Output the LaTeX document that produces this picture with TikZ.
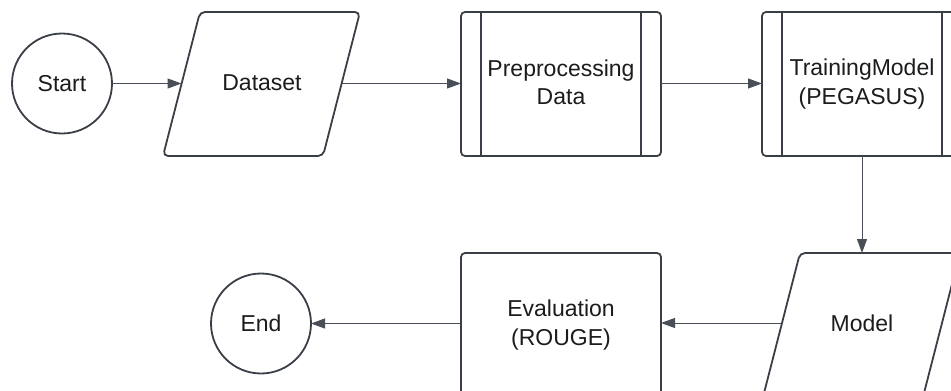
\documentclass[tikz,border=0pt]{standalone}
\usepackage{fontspec}
\setmainfont{Liberation Sans}
\usetikzlibrary{arrows.meta}
\definecolor{ln}{HTML}{3A3F47}
\definecolor{cn}{HTML}{4A4F57}
\definecolor{tx}{HTML}{1C1C1C}
\begin{document}
\begin{tikzpicture}[x=1pt,y=-1pt,
  shp/.style={draw=ln, line width=1.8pt, fill=white},
  term/.style={shp, circle, minimum size=100pt, inner sep=0pt, outer sep=0pt},
  lbl/.style={font=\fontsize{23}{28.5}\selectfont, align=center, text=tx},
  proc/.style={shp, rectangle, rounded corners=4pt, minimum width=200pt, minimum height=144pt, inner sep=0pt, outer sep=0pt},
  conn/.style={draw=cn, line width=1pt, -{Triangle[length=14pt,width=10pt]}},
  bar/.style={draw=ln, line width=1.8pt}
]
\useasboundingbox (0,0) rectangle (951,391);
% Start
\node[term, lbl] (start) at (62,83.5) {Start};
% Dataset (input/output)
\draw[shp, rounded corners=5pt] (200,12) -- (360,12) -- (323,156) -- (163,156) -- cycle;
\node[lbl] (ds) at (262,83) {Dataset};
\coordinate (dsL) at (181.5,83.5);
\coordinate (dsR) at (341.5,83.5);
% Preprocessing
\node[proc, lbl] (pp) at (561,84) {Preprocessing\\Data\rule[-4pt]{0pt}{1pt}};
\draw[bar] ([xshift=20pt]pp.north west) -- ([xshift=20pt]pp.south west);
\draw[bar] ([xshift=-20pt]pp.north east) -- ([xshift=-20pt]pp.south east);
% Training
\node[proc, lbl] (tm) at (862,84) {TrainingModel\\(PEGASUS)\rule[-4pt]{0pt}{1pt}};
\draw[bar] ([xshift=20pt]tm.north west) -- ([xshift=20pt]tm.south west);
\draw[bar] ([xshift=-20pt]tm.north east) -- ([xshift=-20pt]tm.south east);
% Model (input/output)
\draw[shp, rounded corners=5pt] (800,253) -- (960,253) -- (923,397) -- (763,397) -- cycle;
\node[lbl] (md) at (862,323) {Model};
\coordinate (mdT) at (862,253);
\coordinate (mdL) at (782,323);
% Evaluation
\node[proc, lbl] (ev) at (561,325) {Evaluation\\(ROUGE)\rule[-4pt]{0pt}{1pt}};
% End
\node[term, lbl] (en) at (261,323.5) {End};
% connectors
\draw[conn] (start) -- (dsL);
\draw[conn] (dsR) -- (pp.west |- dsR);
\draw[conn] (pp.east |- dsR) -- (tm.west |- dsR);
\draw[conn] (tm.south) -- (mdT);
\draw[conn] (mdL) -- (ev.east |- mdL);
\draw[conn] (ev.west |- en) -- (en);
\end{tikzpicture}
\end{document}
